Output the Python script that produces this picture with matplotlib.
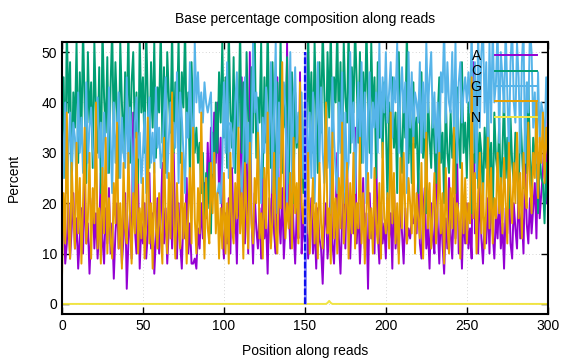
import matplotlib
matplotlib.use("Agg")
import matplotlib.pyplot as plt
import numpy as np

# per-position base composition (%), positions 0..300
A = [14, 18, 8, 12, 20, 9, 15, 22, 11, 17,
     7, 13, 19, 10, 24, 12, 16, 6, 14, 21,
     11, 18, 9, 15, 26, 13, 8, 19, 12, 23,
     10, 16, 5, 14, 20, 11, 17, 8, 13, 22,
     3, 12, 18, 9, 38, 15, 10, 24, 7, 16,
     12, 20, 9, 14, 26, 11, 18, 6, 13, 21,
     10, 17, 28, 12, 19, 8, 15, 23, 11, 30,
     14, 9, 20, 12, 7, 18, 13, 25, 10, 16,
     8, 8, 9, 7, 15, 11, 20, 13, 24, 17,
     32, 20, 35, 25, 38, 28, 40, 22, 33, 15,
     9, 18, 12, 21, 10, 27, 14, 19, 8, 24,
     16, 45, 20, 12, 30, 10, 50, 18, 8, 22,
     15, 11, 19, 9, 25, 13, 17, 6, 21, 12,
     28, 14, 10, 45, 18, 12, 23, 9, 16, 52,
     20, 11, 26, 15, 8, 19, 13, 46, 10, 17,
     12, 18, 9, 14, 21, 10, 16, 7, 19, 13,
     11, 4, 15, 20, 9, 14, 24, 12, 8, 18,
     30, 13, 6, 17, 22, 11, 28, 15, 9, 19,
     14, 35, 12, 20, 8, 16, 25, 11, 18, 3,
     22, 13, 17, 10, 30, 14, 8, 20, 12, 16,
     9, 21, 13, 18, 7, 24, 11, 16, 10, 20,
     14, 8, 19, 12, 15, 13, 17, 16, 18, 14,
     26, 12, 9, 18, 23, 11, 15, 7, 20, 13,
     10, 33, 16, 8, 19, 12, 6, 17, 11, 25,
     14, 9, 21, 13, 30, 10, 16, 7, 19, 12,
     20, 11, 15, 9, 48, 14, 18, 10, 24, 13,
     8, 17, 12, 21, 10, 26, 14, 9, 18, 13,
     22, 11, 16, 7, 19, 14, 25, 12, 9, 20,
     15, 11, 23, 13, 18, 10, 28, 16, 12, 21,
     14, 19, 24, 13, 30, 17, 22, 26, 35, 20,
     38]
C = [30, 45, 25, 55, 38, 48, 22, 42, 35, 52,
     28, 46, 33, 55, 40, 24, 50, 36, 44, 27,
     52, 38, 30, 47, 22, 55, 41, 34, 49, 26,
     43, 55, 32, 48, 38, 25, 52, 40, 30, 46,
     36, 55, 28, 44, 50, 33, 42, 24, 53, 38,
     45, 30, 55, 40, 27, 48, 35, 52, 29, 43,
     38, 55, 32, 47, 26, 50, 41, 34, 55, 30,
     44, 36, 53, 28, 46, 39, 55, 33, 42, 25,
     48, 37, 30, 35, 28, 32, 22, 30, 15, 26,
     19, 28, 14, 34, 24, 40, 30, 46, 36, 52,
     33, 45, 27, 55, 38, 31, 49, 26, 42, 35,
     55, 30, 44, 24, 50, 37, 28, 47, 34, 55,
     29, 41, 36, 52, 25, 45, 32, 55, 38, 27,
     48, 34, 22, 44, 30, 53, 26, 40, 35, 49,
     24, 38, 46, 20, 42, 31, 37, 25, 33, 22,
     40, 28, 55, 35, 46, 30, 52, 38, 26, 48,
     34, 55, 42, 29, 50, 37, 55, 31, 45, 40,
     55, 33, 48, 26, 52, 41, 36, 55, 30, 47,
     38, 55, 44, 32, 50, 28, 46, 35, 55, 40,
     30, 52, 37, 45, 25, 48, 33, 42, 29, 44,
     36, 20, 40, 27, 45, 31, 38, 22, 50, 34,
     26, 42, 33, 55, 28, 39, 24, 44, 31, 37,
     22, 35, 46, 29, 38, 18, 42, 33, 27, 40,
     31, 24, 37, 45, 28, 34, 20, 41, 30, 26,
     38, 29, 35, 22, 43, 33, 27, 48, 30, 36,
     25, 40, 31, 18, 37, 28, 44, 23, 34, 30,
     20, 35, 27, 41, 24, 32, 16, 38, 29, 26,
     36, 22, 30, 42, 25, 33, 19, 37, 28, 24,
     34, 27, 20, 39, 31, 23, 35, 26, 44, 29,
     22, 33, 27, 36, 18, 30, 25, 24, 16, 28,
     20]
G = [35, 25, 40, 22, 30, 38, 27, 36, 33, 24,
     42, 30, 37, 26, 32, 44, 28, 35, 39, 31,
     27, 34, 41, 29, 36, 24, 38, 31, 26, 43,
     33, 22, 40, 28, 35, 42, 25, 37, 30, 27,
     45, 26, 39, 32, 20, 36, 41, 29, 34, 24,
     30, 38, 22, 36, 41, 28, 34, 26, 43, 31,
     35, 27, 30, 38, 45, 25, 33, 40, 28, 36,
     31, 46, 24, 42, 37, 30, 22, 38, 33, 48,
     35, 28, 52, 40, 46, 38, 42, 36, 44, 40,
     38, 40, 42, 26, 30, 18, 22, 24, 20, 28,
     44, 30, 48, 25, 36, 34, 27, 40, 46, 31,
     25, 22, 30, 45, 28, 36, 20, 33, 52, 38,
     42, 35, 28, 20, 37, 30, 43, 26, 34, 48,
     22, 38, 52, 18, 40, 27, 33, 44, 39, 20,
     36, 50, 22, 41, 47, 32, 38, 30, 42, 25,
     35, 40, 22, 38, 25, 42, 20, 36, 48, 28,
     43, 30, 24, 39, 27, 35, 18, 45, 33, 26,
     22, 40, 30, 46, 20, 38, 25, 28, 50, 32,
     40, 22, 34, 44, 30, 48, 28, 42, 20, 38,
     46, 25, 40, 35, 42, 30, 52, 33, 45, 38,
     50, 36, 42, 48, 33, 45, 40, 52, 30, 41,
     47, 38, 44, 22, 50, 35, 46, 32, 42, 40,
     36, 48, 30, 44, 33, 52, 38, 45, 50, 35,
     42, 30, 40, 28, 46, 42, 55, 36, 48, 40,
     38, 50, 34, 52, 28, 44, 48, 36, 42, 45,
     40, 46, 38, 55, 30, 48, 25, 55, 35, 50,
     55, 38, 48, 30, 52, 36, 55, 40, 44, 55,
     32, 50, 45, 38, 55, 42, 30, 48, 55, 40,
     36, 52, 45, 30, 48, 55, 28, 44, 38, 55,
     50, 35, 42, 28, 46, 32, 40, 38, 30, 45,
     36]
T = [5, 22, 12, 38, 15, 9, 28, 18, 11, 32,
     14, 25, 8, 20, 35, 12, 17, 30, 9, 23,
     16, 40, 11, 19, 8, 27, 14, 33, 10, 21,
     13, 9, 24, 16, 36, 11, 20, 7, 28, 15,
     12, 30, 18, 8, 22, 14, 34, 10, 19, 13,
     25, 9, 16, 37, 12, 20, 7, 28, 15, 11,
     22, 14, 8, 33, 17, 10, 26, 13, 42, 16,
     9, 24, 15, 11, 30, 13, 20, 8, 18, 27,
     12, 35, 17, 10, 23, 14, 38, 20, 9, 25,
     15, 12, 28, 18, 30, 14, 22, 9, 19, 11,
     26, 10, 20, 8, 30, 15, 12, 24, 17, 35,
     14, 22, 9, 28, 18, 11, 32, 16, 12, 25,
     20, 34, 13, 18, 9, 27, 15, 38, 21, 11,
     17, 30, 14, 10, 25, 19, 48, 23, 13, 20,
     15, 26, 11, 33, 18, 24, 12, 44, 20, 16,
     22, 14, 30, 10, 17, 25, 12, 20, 9, 28,
     16, 11, 23, 40, 14, 19, 8, 34, 13, 21,
     10, 25, 15, 36, 12, 18, 28, 9, 24, 14,
     30, 11, 20, 15, 33, 12, 22, 8, 18, 26,
     13, 19, 10, 27, 16, 12, 24, 9, 32, 17,
     14, 22, 11, 38, 16, 26, 12, 20, 8, 29,
     15, 30, 18, 12, 25, 20, 14, 33, 10, 22,
     17, 13, 28, 9, 20, 34, 15, 24, 11, 18,
     26, 12, 19, 30, 14, 22, 8, 27, 16, 10,
     23, 15, 35, 12, 20, 18, 9, 28, 14, 25,
     12, 20, 16, 45, 17, 26, 10, 22, 30, 14,
     24, 11, 19, 33, 15, 27, 12, 21, 17, 30,
     18, 25, 14, 29, 20, 12, 32, 22, 16, 28,
     20, 34, 17, 26, 13, 30, 22, 19, 36, 24,
     18, 30, 25, 40, 21, 33, 28, 38, 24, 35,
     30]
N = [0] * 164 + [0.2, 0.6, 0.2] + [0] * 134

labels = ["A", "C", "G", "T", "N"]
colors = ["#9400D3", "#009E73", "#56B4E9", "#E69F00", "#F0E442"]
split_pos = 150

plt.rcParams.update({"font.family": "Liberation Sans", "font.size": 10})
fig = plt.figure(figsize=(5.76, 3.6), dpi=100)
ax = fig.add_axes([0.1076, 0.1278, 0.8434, 0.7555])

for s, lab, c in zip([A, C, G, T, N], labels, colors):
    ax.plot(np.arange(len(s)), s, color=c, lw=1.4, label=lab)
# read-pair boundary marker
ax.vlines(split_pos, 0, 50, color="#8a8aff", lw=2.0, zorder=5)
ax.vlines(split_pos, 0, 50, color="#1010ee", lw=1.6, linestyles=(0, (3, 1)), zorder=6)

ax.set_xlim(0, 300)
ax.set_ylim(-2, 52)
ax.set_xticks(range(0, 301, 50))
ax.set_yticks(range(0, 51, 10))
ax.tick_params(direction="in", top=True, right=True, length=5, width=1)
ax.grid(color="#c8c8c8", lw=0.6, ls=(0, (1, 3)))
for sp in ax.spines.values():
    sp.set_linewidth(1.5)

ax.set_title("Base percentage composition along reads", fontsize=10, pad=14)
ax.set_xlabel("Position along reads", fontsize=10, labelpad=8)
ax.set_ylabel("Percent", fontsize=10, labelpad=15)
ax.legend(frameon=False, markerfirst=False, loc="upper right",
          bbox_to_anchor=(1.003, 1.02), handlelength=3.0, handletextpad=1.0,
          labelspacing=0.1, fontsize=10)

fig.savefig("out.png", dpi=100)
